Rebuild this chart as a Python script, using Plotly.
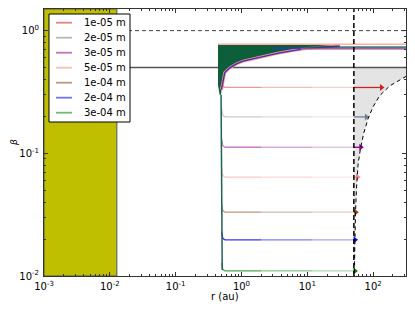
import math
import plotly.graph_objects as go

# ---------------- data ----------------
sizes = ['1e-05 m', '2e-05 m', '3e-05 m', '5e-05 m', '1e-04 m', '2e-04 m', '3e-04 m']
colors = ['#cc2222', '#708090', '#900090', '#ff8080', '#8b4513', '#0000ff', '#008000']
beta_levels = [0.344, 0.198, 0.112, 0.064, 0.0331, 0.0197, 0.0110]
knee_betas = [0.40, 0.23, 0.13, 0.074, 0.038, 0.023, 0.0128]
r_ends = [134, 79, 65, 57.9, 54.6, 53.2, 53.0]
base_alpha = [0.45, 0.4, 0.5, 0.45, 0.55, 0.8, 0.7]

x_tickvals = [0.001, 0.01, 0.1, 1, 10, 100]
x_ticktext = ['10<sup>-3</sup>', '10<sup>-2</sup>', '10<sup>-1</sup>', '10<sup>0</sup>', '10<sup>1</sup>', '10<sup>2</sup>']
y_tickvals = [0.01, 0.1, 1]
y_ticktext = ['10<sup>-2</sup>', '10<sup>-1</sup>', '10<sup>0</sup>']

r_knee = 0.50
r_flat = 0.56
seg_r = [0.56, 2.0, 12.0]          # gradient break points of horizontal tracks

r0 = 51.0                          # dashed vertical line
star_r = [0.001, 0.0128]           # yellow region

# dashed curve (read points)
curve_r = [320, 286, 180, 126, 100, 84, 72.3, 64.4, 59.2, 56, 54.1, 52.7, 52.0]
curve_beta = [0.425, 0.411, 0.355, 0.295, 0.24, 0.192, 0.147, 0.11, 0.082, 0.052, 0.034, 0.017, 0.01]

# lower boundary of dark green region
bound_r = [0.497, 0.525, 0.557, 0.664, 0.84, 1.06, 1.9, 3.4, 6.1, 9.7, 18, 31]
bound_beta = [0.33, 0.40, 0.453, 0.497, 0.536, 0.563, 0.607, 0.65, 0.688, 0.714, 0.735, 0.748]
green_top = 0.765
green_left_r = 0.44

# top bundle of lines
top_levels = [0.775, 0.735, 0.718, 0.705]
top_starts = [0.44, 0.44, 3.0, 8.0]
top_colors = ['#ff9a8a', '#0d5e3a', '#3030d0', '#e08080']

vert_r = [0.49, 0.50, 0.51]
vert_beta = [0.30, 0.05, 0.0112]

x_min, x_max = 0.001, 316
y_min, y_max = 0.01, 1.5

fig = go.Figure()

def line(x, y, color, width=1.0, opacity=1.0, dash=None):
    fig.add_trace(go.Scatter(x=x, y=y, mode='lines',
                             line=dict(color=color, width=width, dash=dash),
                             opacity=opacity, showlegend=False, hoverinfo='skip'))

# beta = 1 dashed line
line([x_min, x_max], [1.0, 1.0], '#444444', 1.0, 1.0, '4px,3px')

# gray unbound region
gx = [r0, r0, x_max] + curve_r
gy = [y_min, 0.5, 0.5] + curve_beta
fig.add_trace(go.Scatter(x=gx, y=gy, mode='lines', fill='toself', fillcolor='#e4e4e4',
                         line=dict(width=0), showlegend=False, hoverinfo='skip'))

# beta = 0.5 line
line([x_min, x_max], [0.5, 0.5], '#555555', 1.4)

# dark green region
fx = [green_left_r, green_left_r, 0.465, 0.49] + bound_r + [bound_r[-1]]
fy = [green_top, 0.36, 0.30, 0.30] + bound_beta + [green_top]
fig.add_trace(go.Scatter(x=fx, y=fy, mode='lines', fill='toself', fillcolor='#0d5e3a',
                         line=dict(width=0), showlegend=False, hoverinfo='skip'))
line(bound_r, bound_beta, '#ff9a8a', 3.0, 0.9)
line(bound_r, bound_beta, '#3020c0', 1.3, 0.9)

# top lines
for lv, st, c in zip(top_levels, top_starts, top_colors):
    line([st, x_max], [lv, lv], c, 1.4, 0.8)

# size tracks
for i in range(len(sizes)):
    c, b, kb, re, a = colors[i], beta_levels[i], knee_betas[i], r_ends[i], base_alpha[i]
    line([r_knee, 0.52, r_flat], [kb, b * 1.03, b], c, 1.3, a)
    pts = seg_r + [r0]
    for j in range(3):
        line([pts[j], pts[j + 1]], [b, b], c, 1.3, a * [1.0, 0.65, 0.45][j])
    line([r0, re], [b, b], c, 1.3, 1.0)
    fig.add_trace(go.Scatter(x=[re], y=[b], mode='markers',
                             marker=dict(symbol='triangle-right', size=6, color=c),
                             showlegend=False, hoverinfo='skip'))

# common vertical line
line(vert_r, vert_beta, '#1e6450', 1.5)

# dashed curve + dashed vertical line
line(curve_r, curve_beta, '#000000', 1.0, 1.0, '4px,3px')
line([r0, r0], [y_min, y_max], '#000000', 1.5, 1.0, '5px,3px')

# yellow region
fig.add_trace(go.Scatter(x=[star_r[0], star_r[1], star_r[1], star_r[0], star_r[0]],
                         y=[y_min, y_min, y_max, y_max, y_min], mode='lines', fill='toself',
                         fillcolor='#bfbf00', line=dict(color='#555555', width=1),
                         showlegend=False, hoverinfo='skip'))

# ---------------- layout ----------------
L, R, T, B = 44, 9, 9, 36
W, H = 415, 312
pw, ph = W - L - R, H - T - B

def px(xp):
    return (xp - L) / pw

def py(yp):
    return (H - B - yp) / ph

axis_common = dict(type='log', showgrid=False, zeroline=False, automargin=False,
                   showline=True, linecolor='#333333', linewidth=1, mirror='allticks',
                   ticks='inside', ticklen=4, tickcolor='#333333',
                   tickfont=dict(family='DejaVu Sans', size=10, color='#000000'),
                   minor=dict(ticks='inside', ticklen=2, tickcolor='#333333', dtick='D1', showgrid=False))

fig.update_layout(
    width=W, height=H,
    margin=dict(l=L, r=R, t=T, b=B, autoexpand=False),
    plot_bgcolor='white', paper_bgcolor='white',
    xaxis=dict(range=[math.log10(x_min), math.log10(x_max)], tickvals=x_tickvals, ticktext=x_ticktext,
               ticklabelstandoff=1, **axis_common),
    yaxis=dict(range=[math.log10(y_min), math.log10(y_max)], tickvals=y_tickvals, ticktext=y_ticktext,
               ticklabelstandoff=2, **axis_common),
    showlegend=False,
)

shapes = [dict(type='rect', xref='paper', yref='paper', x0=px(49), x1=px(130), y0=py(122), y1=py(14),
               fillcolor='white', line=dict(color='#000000', width=1), layer='above')]
annots = []
for i, (s, c) in enumerate(zip(sizes, colors)):
    yy = py(22.7 + 15 * i)
    shapes.append(dict(type='line', xref='paper', yref='paper', x0=px(56), x1=px(72), y0=yy, y1=yy,
                       line=dict(color=c, width=1.8), opacity=0.55, layer='above'))
    annots.append(dict(xref='paper', yref='paper', x=px(82), y=yy, text=s, showarrow=False,
                       xanchor='left', yanchor='middle',
                       font=dict(family='DejaVu Sans', size=10, color='#000000')))

annots.append(dict(xref='paper', yref='paper', x=px(225), y=py(296), text='r (au)', showarrow=False,
                   xanchor='center', yanchor='middle', font=dict(family='DejaVu Sans', size=10, color='#000000')))
annots.append(dict(xref='paper', yref='paper', x=px(14), y=py(143), text='<i>β</i>', showarrow=False,
                   textangle=-90, xanchor='center', yanchor='middle',
                   font=dict(family='DejaVu Sans', size=9, color='#000000')))

fig.update_layout(shapes=shapes, annotations=annots)
fig.write_html('out.html', config={'displayModeBar': False},
               post_script="document.body.style.margin='0';document.body.style.padding='0';")
